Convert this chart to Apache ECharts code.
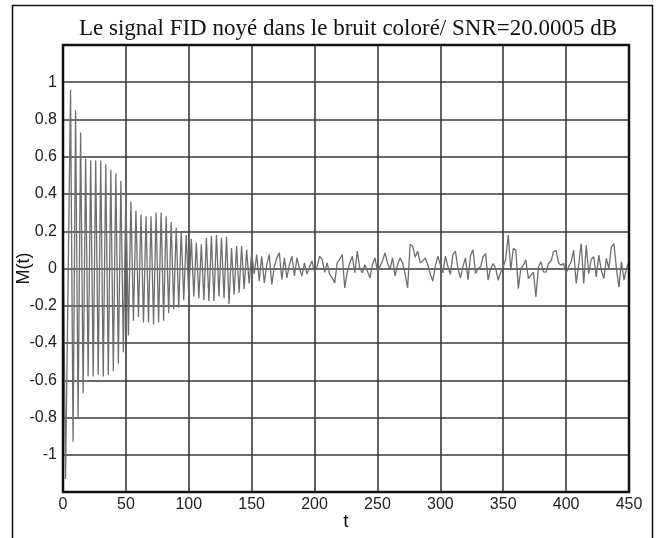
<!DOCTYPE html>
<html><head><meta charset="utf-8">
<script src="https://cdn.jsdelivr.net/npm/echarts@6/dist/echarts.min.js"></script>
<style>html,body{margin:0;padding:0;background:#fff}#c{width:672px;height:538px}</style>
</head><body><div id="c"></div>
<script>
// sample spacing along t
const DT = 2;
// M(t), one value every DT (t = 0 .. 450)
const mValues = [
  0.3, -1.13, -0.1, 0.96, -0.93, 0.85, -0.80, 0.73, -0.67, 0.59,
  -0.58, 0.58, -0.58, 0.58, -0.57, 0.58, -0.58, 0.56, -0.57, 0.53,
  -0.55, 0.51, -0.51, 0.47, -0.45, 0.42, -0.36, 0.36, -0.28, 0.31,
  -0.26, 0.29, -0.29, 0.28, -0.29, 0.28, -0.30, 0.30, -0.29, 0.30,
  -0.28, 0.28, -0.24, 0.25, -0.22, 0.22, -0.21, 0.20, -0.17, 0.18,
  -0.15, 0.16, -0.15, 0.14, -0.16, 0.13, -0.17, 0.165, -0.175, 0.175,
  -0.175, 0.18, -0.15, 0.165, -0.16, 0.17, -0.19, 0.11, -0.14, 0.12,
  -0.13, 0.12, -0.11, 0.10, -0.08, 0.085, -0.03, 0.075, -0.068, 0.066,
  -0.077, 0.02, 0.075, -0.086, 0.01, 0.057, 0.084, -0.06, 0.057, -0.05,
  0.02, 0.066, -0.04, 0.057, 0.0, -0.04, 0.03, -0.03, 0.01, 0.04,
  -0.023, 0.01, 0.066, 0.05, -0.02, 0.03, -0.032, -0.05, -0.077, 0.03,
  0.05, 0.075, -0.104, -0.02, 0.03, 0.066, -0.023, 0.093, 0.0, -0.023,
  0.02, -0.014, -0.05, 0.02, 0.057, -0.014, 0.01, 0.04, 0.084, 0.03,
  -0.005, 0.057, -0.04, 0.02, 0.057, 0.03, -0.03, -0.104, 0.13, 0.12,
  0.06, 0.093, 0.03, 0.04, 0.057, 0.02, -0.03, -0.068, 0.013, 0.066,
  0.02, -0.023, 0.066, 0.01, -0.032, 0.075, 0.093, 0.0, -0.05, 0.013,
  0.057, -0.06, 0.07, 0.10, -0.027, 0.0, 0.009, 0.063, 0.08, -0.063,
  0.0, 0.027, 0.0, -0.063, -0.02, 0.009, 0.05, 0.18, -0.009, 0.107,
  0.1, -0.108, 0.0, 0.018, 0.045, -0.054, -0.036, -0.02, -0.152, 0.009,
  0.036, -0.018, -0.02, 0.027, 0.04, 0.09, 0.098, 0.03, 0.018, 0.027,
  -0.027, 0.01, 0.036, 0.098, -0.08, 0.02, 0.134, -0.08, 0.125, -0.027,
  0.05, 0.063, -0.045, 0.072, -0.01, -0.054, 0.054, 0.0, 0.116, 0.134,
  0.0, -0.1, 0.036, -0.063, 0.0, 0.036
];
const X_MIN = 0, X_MAX = 450, X_STEP = 50;
const Y_MIN = -1.2, Y_MAX = 1.2, Y_STEP = 0.2;
const yLabelMax = 1; // labels shown from -1 to 1

const seriesData = mValues.map((v, i) => [i * DT, v]);

const chart = echarts.init(document.getElementById('c'), null, {renderer: 'canvas'});
chart.setOption({
  animation: false,
  backgroundColor: '#fff',
  title: {
    text: 'Le signal FID noyé dans le bruit coloré/ SNR=20.0005 dB',
    left: 343, top: 12, textAlign: 'center',
    textStyle: {fontFamily: 'Liberation Serif', fontSize: 23, fontWeight: 'normal', color: '#111'}
  },
  graphic: [{
    type: 'rect', silent: true, z: 100,
    shape: {x: 12.5, y: 5.5, width: 640, height: 545},
    style: {fill: 'none', stroke: '#111', lineWidth: 1.5}
  }],
  grid: {left: 63, right: 43, top: 45, bottom: 46, outerBoundsMode: 'none', containLabel: false,
    show: true, borderColor: '#111', borderWidth: 2.5, backgroundColor: 'transparent', z: 3},
  xAxis: {
    type: 'value', min: X_MIN, max: X_MAX, interval: X_STEP,
    name: 't', nameLocation: 'middle', nameGap: 20, nameMoveOverlap: false,
    nameTextStyle: {fontFamily: 'Liberation Sans', fontSize: 19, color: '#111'},
    axisLine: {show: false}, axisTick: {show: false},
    axisLabel: {fontFamily: 'Liberation Sans', fontSize: 16, color: '#222', margin: 5},
    splitLine: {show: true, lineStyle: {color: '#3a3a3a', width: 1.6}}
  },
  yAxis: {
    type: 'value', min: Y_MIN, max: Y_MAX, interval: Y_STEP,
    name: 'M(t)', nameLocation: 'middle', nameGap: 30, nameMoveOverlap: false,
    nameTextStyle: {fontFamily: 'Liberation Sans', fontSize: 18, color: '#111'},
    axisLine: {show: false}, axisTick: {show: false},
    axisLabel: {
      fontFamily: 'Liberation Sans', fontSize: 16, color: '#222', margin: 6,
      formatter: v => (Math.abs(v) > yLabelMax + 1e-6 ? '' : String(Math.round(v * 10) / 10))
    },
    splitLine: {show: true, lineStyle: {color: '#3a3a3a', width: 1.6}}
  },
  series: [{
    type: 'line', data: seriesData, showSymbol: false, symbol: 'none',
    lineStyle: {color: '#6e6e6e', width: 1.3}, z: 2, clip: true
  }]
});
</script>
</body></html>
